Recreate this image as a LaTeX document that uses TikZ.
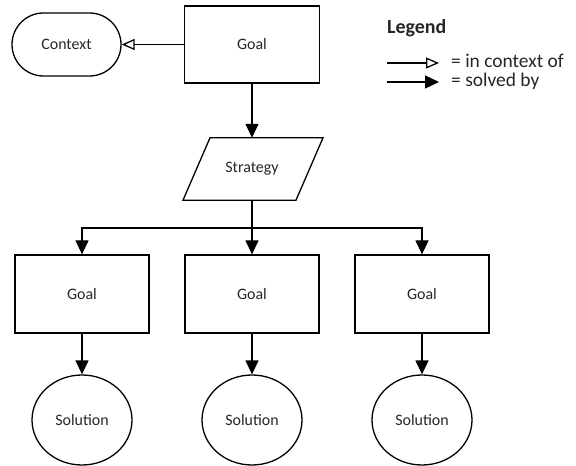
\documentclass[tikz,border=0pt]{standalone}
\usepackage{fontspec}
\setmainfont{Carlito}
\usetikzlibrary{arrows.meta,shapes.geometric,shapes.misc}
\begin{document}
\begin{tikzpicture}[x=1bp,y=-1bp,
  every node/.style={font=\fontsize{16}{18}\selectfont, text=black!85},
  box/.style={draw, line width=1.3bp, minimum width=134bp, minimum height=78bp, inner sep=0pt},
  soln/.style={draw, ellipse, line width=1.3bp, minimum width=100bp, minimum height=90bp, inner sep=0pt},
  ctxbox/.style={draw, rounded rectangle, line width=1.3bp, minimum width=109bp, minimum height=63bp, inner sep=0pt},
  solved/.style={line width=1.3bp, -{Triangle[length=14bp,width=13bp]}},
  inctx/.style={line width=1.3bp, -{Triangle[open,length=13bp,width=11bp,line width=1.3bp]}},
  legtext/.style={font=\fontsize{19.5}{22}\selectfont, anchor=west, inner sep=0pt}
]
\useasboundingbox (0,0) rectangle (576,466);

\node[box, minimum width=135bp, minimum height=77bp] (g0) at (252,44.5) {Goal};
\node[ctxbox] (ctx) at (66.5,44.5) {Context};
\node[minimum width=113bp, minimum height=62bp, inner sep=0pt] (str) at (252,169) {Strategy};
\draw[line width=1.3bp, line join=miter]
  ([xshift=-42bp]str.north) -- ([xshift=71bp]str.north) -- ([xshift=44bp]str.south) -- ([xshift=-69bp]str.south) -- cycle;

\node[box] (g1) at (82,294) {Goal};
\node[box] (g2) at (252,294) {Goal};
\node[box] (g3) at (422,294) {Goal};

\node[soln] (s1) at (82,420) {Solution};
\node[soln] (s2) at (252,420) {Solution};
\node[soln] (s3) at (422,420) {Solution};

\draw[inctx] (g0.west) -- (ctx.east);
\draw[solved] (g0.south) -- (str.north);
\coordinate (bus) at (252,228);
\draw[solved] (str.south) -- (bus) -| (g1.north);
\draw[solved] (bus) -- (g2.north);
\draw[solved] (bus) -| (g3.north);
\draw[solved] (g1.south) -- (s1.north);
\draw[solved] (g2.south) -- (s2.north);
\draw[solved] (g3.south) -- (s3.north);

% legend
\node[legtext, font=\fontsize{20}{23}\selectfont\bfseries] (leg) at (387,28) {Legend};
\coordinate (la1) at (387,63);
\coordinate (la2) at (439,63);
\coordinate (lb1) at (387,82);
\coordinate (lb2) at (439,82);
\draw[inctx] (la1) -- (la2);
\draw[solved] (lb1) -- (lb2);
\node[legtext] (lta) at (451,61) {= in context of};
\node[legtext] (ltb) at (451,81) {= solved by};
\end{tikzpicture}
\end{document}
